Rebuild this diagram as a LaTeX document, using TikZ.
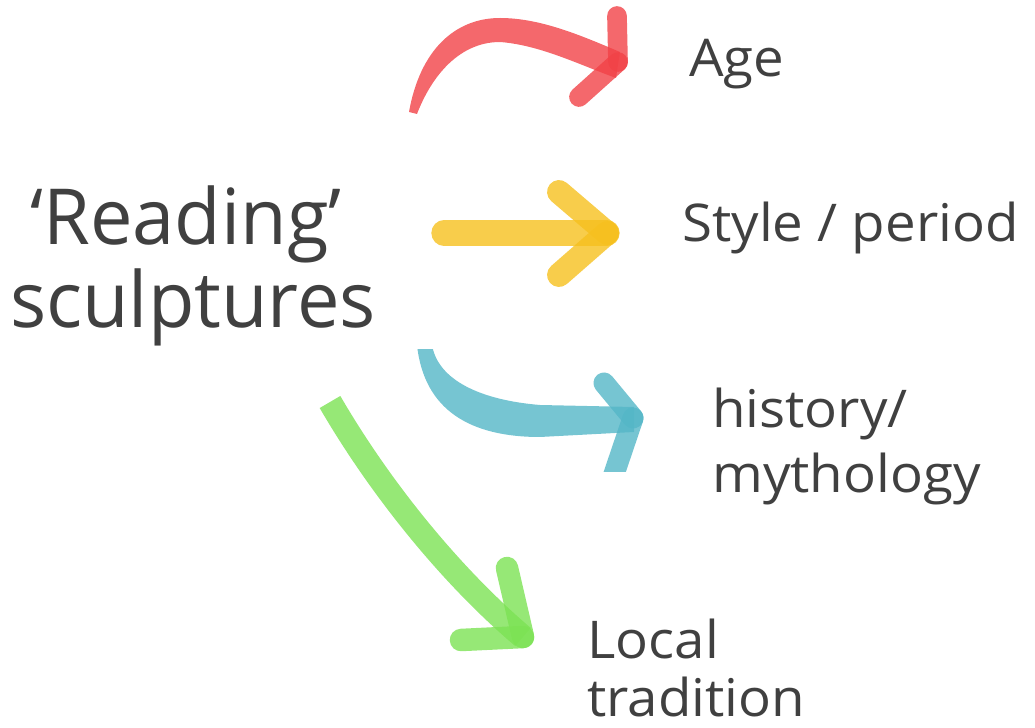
\documentclass[tikz,border=0pt]{standalone}
\usepackage{fontspec}
\setmainfont{Open Sans}[FakeStretch=1.05,Ligatures=TeX]
\newfontfamily\bigfont{Open Sans}[FakeStretch=0.98,Ligatures=TeX]
\definecolor{txt}{HTML}{404040}
\definecolor{redA}{RGB}{241,66,71}
\definecolor{yelA}{RGB}{246,192,30}
\definecolor{bluA}{RGB}{84,182,199}
\definecolor{grnA}{RGB}{124,226,84}
\tikzset{
  body/.style={draw=none,fill=#1,opacity=0.8},
  bodyline/.style={draw=#1,opacity=0.8,line width=17pt,line cap=butt},
  headline/.style={draw=#1,opacity=0.8,line width=13pt,line cap=round},
  small/.style={inner sep=0pt,anchor=base west,text=txt,font=\fontsize{37}{44}\selectfont},
  big/.style={inner sep=0pt,anchor=base,text=txt,font=\bigfont\fontsize{55}{60}\selectfont}
}
\begin{document}
\begin{tikzpicture}[x=0.025cm,y=-0.025cm]
\useasboundingbox (0,0) rectangle (1035,728);
% texts
\node[big] (reading) at (186,245) {‘Reading’};
\node[big] (sculpt) at (193,328) {sculptures};
\node[small] (age) at (689,77) {Age};
\node[small] (style) at (682,242) {Style / period};
\node[small] (hist) at (712,428) {history/};
\node[small] (myth) at (712,493) {mythology};
\node[small] (local) at (587,658) {Local};
\node[small] (trad) at (587,716) {tradition};
% red arrow
\fill[body=redA] (409,112) .. controls (420,50) and (455,18) .. (500,18)
  .. controls (540,18) and (580,35) .. (620,52) -- (616,78)
  .. controls (580,65) and (540,45) .. (500,42)
  .. controls (460,42) and (432,75) .. (417,114) -- cycle;
\coordinate (redtip) at (618,62);
\draw[headline=redA,line width=14pt] (617,16) -- (redtip);
\draw[headline=redA,line width=14pt] (579,97) -- (redtip);
% yellow arrow
\coordinate (yeltip) at (607,233);
\draw[bodyline=yelA,line width=18pt,line cap=round] (444,233) -- (yeltip);
\draw[headline=yelA,line width=17pt] (559,192) -- (yeltip);
\draw[headline=yelA,line width=17pt] (559,275) -- (yeltip);
% blue arrow
\begin{scope}
\clip (0,350) rectangle (1035,472);
\fill[body=bluA] (417,345) .. controls (424,410) and (470,437) .. (540,437)
  -- (634,432) -- (634,407) -- (540,405)
  .. controls (480,400) and (438,380) .. (432,345) -- cycle;
\coordinate (blutip) at (633,418);
\draw[headline=bluA,line width=15pt] (604,383) -- (blutip);
\draw[headline=bluA,line width=15pt] (612,480) -- (blutip);
\end{scope}
% green arrow
\coordinate (grntip) at (523,637);
\draw[bodyline=grnA] (330,402) .. controls (380,488) and (450,575) .. (grntip);
\draw[headline=grnA,line width=16pt] (507,568) -- (grntip);
\draw[headline=grnA,line width=16pt] (461,640) -- (grntip);
\end{tikzpicture}
\end{document}
